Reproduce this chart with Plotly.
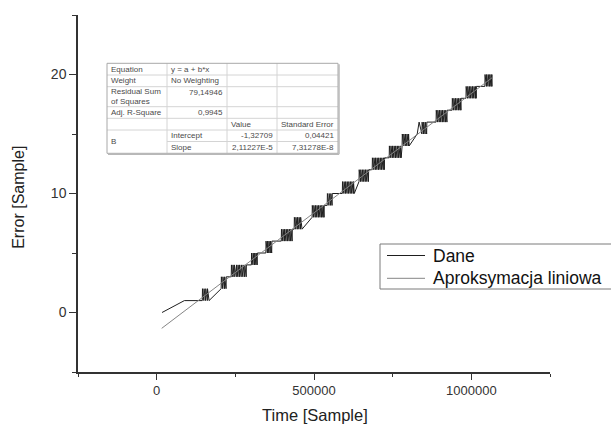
import plotly.graph_objects as go

# ---------------- data (x in thousands of samples) ----------------
dane_start_x_k = [17, 88]
dane_start_y = [0, 1]

# lower level of each jitter zone (signal toggles between level and level+1)
step_levels = [1, 2, 3, 4, 5, 6, 7, 8, 9, 10, 11, 12, 13, 14, 15, 15, 16, 17, 18, 19]
# sample positions inside each jitter zone (thousands of samples)
step_samples_x_k = [
    [145, 145.6, 150, 150.6, 155.5, 156.1, 161, 161.6, 166.5],
    [205, 205.6, 210, 210.6, 215.5, 216.1, 220.5, 221.1],
    [237, 237.6, 242, 242.6, 246.5, 247.1, 253, 253.6, 258, 258.6, 263, 263.6,
     268.5, 269.1, 274, 274.6, 279.5, 280.1, 284.5, 285.1],
    [301, 301.6, 306, 306.6, 311, 311.6, 315.5, 316.1, 319.5, 320.1],
    [347, 347.6, 352, 352.6, 356.5, 357.1, 361, 361.6, 365.5, 366.1],
    [396, 396.6, 401, 401.6, 406, 406.6, 411, 411.6, 416, 416.6, 421, 421.6,
     426, 426.6, 430.5, 431.1],
    [437, 437.6, 442, 442.6, 447, 447.6, 452, 452.6, 457, 457.6, 462],
    [494, 494.6, 499, 499.6, 504, 504.6, 509, 509.6, 514, 514.6, 519, 519.6,
     524, 524.6, 528.5, 529.1, 532, 532.6],
    [542, 542.6, 547.5, 548.1, 553, 553.6, 557.5, 558.1],
    [590, 590.6, 595, 595.6, 600, 600.6, 605, 605.6, 610, 610.6, 615, 615.6,
     620, 620.6, 625, 625.6, 628],
    [643, 643.6, 648, 648.6, 653, 653.6, 658, 658.6, 663, 663.6, 668, 668.6, 673, 673.6],
    [685, 685.6, 690, 690.6, 695, 695.6, 700, 700.6, 705, 705.6, 710, 710.6,
     715, 715.6, 720, 720.6, 723.5, 724.1],
    [739, 739.6, 744, 744.6, 749, 749.6, 754, 754.6, 759, 759.6, 764, 764.6,
     769, 769.6, 774, 774.6, 777],
    [780, 780.6, 785, 785.6, 790, 790.6, 795, 795.6, 800, 800.6, 802.5],
    [828, 834],
    [843, 843.6, 848, 848.6, 853, 853.6, 858, 858.6],
    [888, 888.6, 893, 893.6, 898, 898.6, 903, 903.6, 908, 908.6, 913, 913.6,
     918, 918.6, 922.5, 923.1],
    [939, 939.6, 944, 944.6, 949, 949.6, 954, 954.6, 959, 959.6, 964, 964.6, 967, 967.6],
    [983, 983.6, 988, 988.6, 993, 993.6, 998, 998.6, 1003, 1003.6, 1008, 1008.6,
     1013, 1013.6, 1015.5, 1016.1],
    [1043, 1043.6, 1048, 1048.6, 1053, 1053.6, 1058, 1058.6, 1062.5, 1063.1, 1065.5, 1066.1],
]

fit_x_k = [16, 1066]
fit_y = [-1.33, 19.73]

x_tick_vals = [0, 500000, 1000000]
x_tick_text = ["0", "500000", "1000000"]
x_minor_vals = [-250000, 250000, 750000, 1250000]
y_tick_vals = [0, 10, 20]
y_tick_text = ["0", "10", "20"]
y_minor_vals = [-5, 5, 15, 25]

series_names = ["Dane", "Aproksymacja liniowa"]

table_rows = [
    ["Equation", "y = a + b*x", "", ""],
    ["Weight", "No Weighting", "", ""],
    ["Residual Sum<br>of Squares", "79,14946", "", ""],
    ["Adj. R-Square", "0,9945", "", ""],
    ["", "", "Value", "Standard Error"],
    ["B", "Intercept", "-1,32709", "0,04421"],
    ["", "Slope", "2,11227E-5", "7,31278E-8"],
]

# ---------------- build series ----------------
dane_x = [v * 1000 for v in dane_start_x_k]
dane_y = list(dane_start_y)
for lvl, xs in zip(step_levels, step_samples_x_k):
    for i, v in enumerate(xs):
        dane_x.append(v * 1000)
        dane_y.append(lvl + (i % 2))
fit_x = [v * 1000 for v in fit_x_k]

FONT = "Liberation Sans, Arial, sans-serif"
DANE_COLOR = "#1e1e1e"
FIT_COLOR = "#858585"

fig = go.Figure()
fig.add_trace(go.Scatter(x=dane_x, y=dane_y, mode="lines", name=series_names[0],
                         line=dict(color=DANE_COLOR, width=1)))
fig.add_trace(go.Scatter(x=fit_x, y=fit_y, mode="lines", name=series_names[1],
                         line=dict(color=FIT_COLOR, width=1)))

# ---------------- layout geometry ----------------
W, H = 611, 424
ML, MR, MT, MB = 78, 61, 15, 52
PW, PH = W - ML - MR, H - MT - MB


def px(xp):
    return (xp - ML) / PW


def py(yp):
    return (H - MB - yp) / PH


axis_common = dict(showline=True, linecolor="#333", linewidth=1.5, ticks="outside",
                   tickcolor="#333", tickwidth=1.3, showgrid=False, zeroline=False)

fig.update_layout(
    width=W, height=H,
    margin=dict(l=ML, r=MR, t=MT, b=MB, autoexpand=False),
    paper_bgcolor="white", plot_bgcolor="white",
    showlegend=False,
    xaxis=dict(range=[-250000, 1250000], tickmode="array", tickvals=x_tick_vals,
               ticktext=x_tick_text, ticklen=6,
               tickfont=dict(family=FONT, size=13, color="#333"),
               minor=dict(tickmode="array", tickvals=x_minor_vals, ticklen=3.5,
                          tickwidth=1.3, tickcolor="#333", ticks="outside", showgrid=False),
               **axis_common),
    yaxis=dict(range=[-5, 25], tickmode="array", tickvals=y_tick_vals,
               ticktext=y_tick_text, ticklen=7,
               tickfont=dict(family=FONT, size=14, color="#333"),
               minor=dict(tickmode="array", tickvals=y_minor_vals, ticklen=4,
                          tickwidth=1.3, tickcolor="#333", ticks="outside", showgrid=False),
               **axis_common),
)

annotations = [
    dict(text="Error [Sample]", x=px(18.3), y=py(197.5), xref="paper", yref="paper",
         textangle=-90, showarrow=False, xanchor="center", yanchor="middle",
         font=dict(family=FONT, size=16, color="#222")),
    dict(text="Time [Sample]", x=px(315), y=py(415), xref="paper", yref="paper",
         showarrow=False, xanchor="center", yanchor="middle",
         font=dict(family=FONT, size=16.5, color="#222")),
]
shapes = []

# ---------------- legend box (drawn to match the reference's compact spacing) ----------------
shapes.append(dict(type="rect", xref="paper", yref="paper", x0=px(380), x1=px(640),
                   y0=py(289), y1=py(244), line=dict(color="#7a7a7a", width=1)))
for name, color, yc in zip(series_names, [DANE_COLOR, FIT_COLOR], [255.5, 278.3]):
    shapes.append(dict(type="line", xref="paper", yref="paper", x0=px(387), x1=px(425),
                       y0=py(yc), y1=py(yc), line=dict(color=color, width=1)))
    annotations.append(dict(text=name, x=px(432), y=py(yc), xref="paper", yref="paper",
                            showarrow=False, xanchor="left", yanchor="middle",
                            font=dict(family=FONT, size=17.5, color="#111"), borderpad=0))

# ---------------- fit-result table (inset) ----------------
col_edges = [107, 167, 227, 277, 338]
row_edges = [63.3, 75, 86.7, 106.7, 118.3, 130, 141.5, 153.3]
inner = dict(color="#d4d4d4", width=1)
for i, ye in enumerate(row_edges[1:-1], start=1):
    x0 = col_edges[1] if i == 6 else col_edges[0]
    shapes.append(dict(type="line", xref="paper", yref="paper", x0=px(x0), x1=px(col_edges[-1]),
                       y0=py(ye), y1=py(ye), line=inner))
for xe in col_edges[1:-1]:
    shapes.append(dict(type="line", xref="paper", yref="paper", x0=px(xe), x1=px(xe),
                       y0=py(row_edges[0]), y1=py(row_edges[-1]), line=inner))
shapes.append(dict(type="rect", xref="paper", yref="paper", x0=px(col_edges[0]), x1=px(col_edges[-1]),
                   y0=py(row_edges[-1]), y1=py(row_edges[0]), line=dict(color="#a8a8a8", width=1)))
shapes.append(dict(type="line", xref="paper", yref="paper", x0=px(col_edges[-1] + 1), x1=px(col_edges[-1] + 1),
                   y0=py(row_edges[0] + 1), y1=py(row_edges[-1] + 1), line=dict(color="#b8b8b8", width=1.5)))
shapes.append(dict(type="line", xref="paper", yref="paper", x0=px(col_edges[0] + 1), x1=px(col_edges[-1] + 1),
                   y0=py(row_edges[-1] + 1), y1=py(row_edges[-1] + 1), line=dict(color="#b8b8b8", width=1.5)))

tfont = dict(family=FONT, size=8, color="#4a4a4a")


def is_number(s):
    return len(s) > 0 and (s[0].isdigit() or s[0] == "-")


for r, row in enumerate(table_rows):
    for c, txt in enumerate(row):
        if not txt:
            continue
        yc = (row_edges[r] + row_edges[r + 1]) / 2
        if r == 2 and c > 0:
            yc = row_edges[r] + 5.5
        if r == 5 and c == 0:
            yc = row_edges[6]
        if is_number(txt):
            xa, xp_ = "right", col_edges[c + 1] - 3
        else:
            xa, xp_ = "left", col_edges[c] + 3
        annotations.append(dict(text=txt, x=px(xp_), y=py(yc), xref="paper", yref="paper",
                                showarrow=False, xanchor=xa, yanchor="middle", align="left",
                                font=tfont, borderpad=0))

fig.update_layout(shapes=shapes, annotations=annotations)
fig.write_html("out.html")
